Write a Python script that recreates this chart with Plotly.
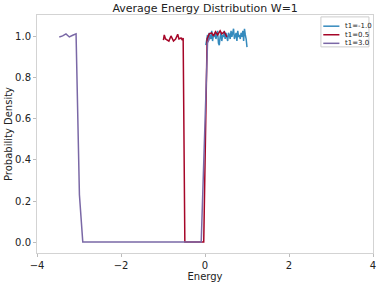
import plotly.graph_objects as go

# ---- data ----
blue_label = "t1=-1.0"
blue_E = [round(0.02 * i, 2) for i in range(1, 51)]
blue_P = [0.96, 0.99, 1.01, 0.98, 1.02, 1.00, 0.99, 1.03, 0.98, 1.01,
          1.00, 1.02, 0.99, 1.01, 1.03, 0.97, 0.96, 1.00, 1.02, 0.98,
          1.01, 1.00, 1.03, 0.99, 1.02, 1.00, 0.98, 1.02, 1.01, 0.99,
          1.03, 1.00, 1.02, 1.04, 0.99, 1.01, 1.02, 0.98, 1.03, 1.00,
          1.01, 0.99, 1.02, 1.00, 1.03, 0.98, 1.04, 1.01, 0.99, 0.95]

red_label = "t1=0.5"
red_E = [-0.99, -0.97, -0.94, -0.91, -0.86, -0.81, -0.78, -0.75, -0.70, -0.65,
         -0.62, -0.57, -0.54, -0.52, -0.48, -0.40, -0.30, -0.20, -0.10, -0.03,
         0.05, 0.10, 0.16, 0.20, 0.25, 0.30, 0.36, 0.40, 0.46, 0.52]
red_P = [0.985, 1.01, 0.99, 0.985, 0.98, 1.005, 0.99, 0.98, 0.99, 1.013,
         0.99, 0.995, 0.985, 0.995, 0.0, 0.0, 0.0, 0.0, 0.0, 0.0,
         0.99, 1.015, 1.02, 1.005, 1.025, 1.01, 1.03, 1.015, 1.025, 1.0]

purple_label = "t1=3.0"
purple_E = [-3.47, -3.39, -3.31, -3.23, -3.15, -3.07, -2.99, -2.91,
            -2.5, -2.0, -1.5, -1.0, -0.5, -0.09, 0.06, 0.12]
purple_P = [1.0, 1.005, 1.015, 1.0, 1.008, 1.015, 0.23, 0.0,
            0.0, 0.0, 0.0, 0.0, 0.0, 0.0, 0.97, 1.0]

title = "Average Energy Distribution W=1"
x_title = "Energy"
y_title = "Probability Density"
x_ticks = [-4, -2, 0, 2, 4]
x_ticktext = ["\u22124", "\u22122", "0", "2", "4"]
y_ticks = [0.0, 0.2, 0.4, 0.6, 0.8, 1.0]
y_ticktext = ["0.0", "0.2", "0.4", "0.6", "0.8", "1.0"]

FONT = "DejaVu Sans"
TXT = "#222222"
series = [(blue_E, blue_P, blue_label, "#348ABD"),
          (red_E, red_P, red_label, "#A60628"),
          (purple_E, purple_P, purple_label, "#7A68A6")]

fig = go.Figure()
for E, P, name, col in series:
    fig.add_trace(go.Scatter(x=E, y=P, mode="lines", name=name,
                             line=dict(color=col, width=1.5), showlegend=False))

axis_common = dict(showline=True, mirror=True, linecolor="#d3d3d3", linewidth=1,
                   showgrid=False, zeroline=False, ticks="outside", ticklen=3,
                   tickcolor="#bcbcbc", automargin=False, ticklabeloverflow="allow",
                   tickfont=dict(family=FONT, size=10, color=TXT))
fig.update_xaxes(range=[-4, 4], tickvals=x_ticks, ticktext=x_ticktext,
                 title=dict(text=x_title, font=dict(family=FONT, size=10, color=TXT), standoff=0),
                 **axis_common)
fig.update_yaxes(range=[-0.0536, 1.107], tickvals=y_ticks, ticktext=y_ticktext,
                 title=dict(text=y_title, font=dict(family=FONT, size=10, color=TXT), standoff=0),
                 **axis_common)

# legend (drawn as a small framed box in the upper right, like matplotlib's)
shapes = [dict(type="rect", xref="paper", yref="paper", x0=0.845, x1=0.988, y0=0.866, y1=0.992,
               line=dict(color="#cccccc", width=1), fillcolor="rgba(255,255,255,0.85)", layer="above")]
annotations = []
row_y = [0.953, 0.917, 0.881]
for (E, P, name, col), ry in zip(series, row_y):
    shapes.append(dict(type="line", xref="paper", yref="paper", x0=0.852, x1=0.900, y0=ry, y1=ry,
                       line=dict(color=col, width=1.5), layer="above"))
    annotations.append(dict(xref="paper", yref="paper", x=0.910, y=ry, text=name, showarrow=False,
                            xanchor="left", yanchor="middle",
                            font=dict(family=FONT, size=7, color=TXT)))

fig.update_layout(
    width=382, height=284,
    margin=dict(l=37, r=9, t=15, b=31),
    paper_bgcolor="white", plot_bgcolor="white",
    title=dict(text=title, x=0.537, xanchor="center", y=0.972, yanchor="middle",
               font=dict(family=FONT, size=11, color=TXT)),
    shapes=shapes, annotations=annotations,
    showlegend=False,
)
fig.write_html("out.html", config={"displayModeBar": False},
               post_script="document.body.style.margin='0';document.body.style.padding='0';")
